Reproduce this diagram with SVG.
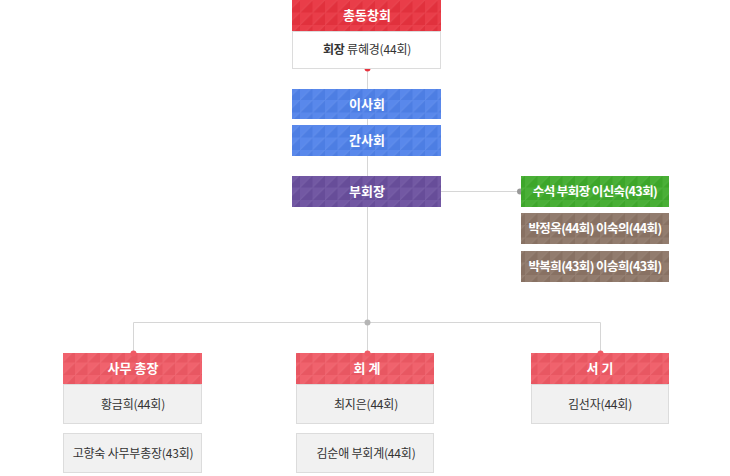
<svg xmlns="http://www.w3.org/2000/svg" width="730" height="476" viewBox="0 0 730 476">
<defs>
<pattern id="tex" width="12.5" height="12.5" patternUnits="userSpaceOnUse">
<path d="M0 0H12.5L0 12.5Z" fill="#fff" fill-opacity="0.05"/>
<path d="M12.5 0V12.5H0Z" fill="#000" fill-opacity="0.03"/>
<path d="M0 12.5L12.5 0" stroke="#fff" stroke-opacity="0.06" stroke-width="1"/>
</pattern>
<style>
.h{font-family:"Noto Sans CJK KR","Noto Sans",sans-serif;font-size:13px;font-weight:bold;fill:#fff;text-anchor:middle}
.c{font-size:12.5px;letter-spacing:-0.6px}
.t{font-family:"Noto Sans CJK KR","Noto Sans",sans-serif;font-size:12px;fill:#333;text-anchor:middle;letter-spacing:-0.2px}
.w{fill:#fff;stroke:#dcdcdc;stroke-width:1}
.g{fill:#f1f1f1;stroke:#dcdcdc;stroke-width:1}
.ln{stroke:#d6d6d6;stroke-width:1;fill:none}
</style>
</defs>
<g id="connectors">
<path class="ln" d="M367.5 68V322"/>
<path class="ln" d="M441 191.5H521"/>
<path class="ln" d="M133.5 353V322.5H600.5V353"/>
<path class="ln" d="M367.5 322V353"/>
<circle cx="367.5" cy="68.5" r="3" fill="#e8323e"/>
<circle cx="367.5" cy="322.5" r="3" fill="#b5b5b5"/>
<circle cx="520" cy="191.5" r="3" fill="#999"/>
</g>
<g id="n-chongdong">
<rect x="292" y="0" width="149" height="31" fill="#e8333f"/>
<rect x="292" y="0" width="149" height="31" fill="url(#tex)"/>
<text class="h" x="367" y="20">총동창회</text>
<rect class="w" x="292.5" y="31.5" width="148" height="37"/>
<text class="t" x="367" y="54"><tspan font-weight="bold">회장</tspan> 류혜경(44회)</text>
</g>
<g id="n-isa">
<rect x="292" y="89" width="149" height="30" fill="#5082ea"/>
<rect x="292" y="89" width="149" height="30" fill="url(#tex)"/>
<text class="h" x="367" y="108.5">이사회</text>
</g>
<g id="n-gansa">
<rect x="292" y="125" width="149" height="31" fill="#5082ea"/>
<rect x="292" y="125" width="149" height="31" fill="url(#tex)"/>
<text class="h" x="367" y="145">간사회</text>
</g>
<g id="n-buhoe">
<rect x="292" y="176" width="149" height="31" fill="#6a4f9e"/>
<rect x="292" y="176" width="149" height="31" fill="url(#tex)"/>
<text class="h" x="367" y="196">부회장</text>
</g>
<g id="n-susuk">
<rect x="521" y="176" width="148" height="31" fill="#3fab2b"/>
<rect x="521" y="176" width="148" height="31" fill="url(#tex)"/>
<text class="h c" x="595" y="196">수석 부회장 이신숙(43회)</text>
</g>
<g id="n-b1">
<rect x="521" y="213" width="148" height="31" fill="#8c7566"/>
<rect x="521" y="213" width="148" height="31" fill="url(#tex)"/>
<text class="h c" x="595" y="233">박정옥(44회) 이숙의(44회)</text>
</g>
<g id="n-b2">
<rect x="521" y="251" width="148" height="31" fill="#8c7566"/>
<rect x="521" y="251" width="148" height="31" fill="url(#tex)"/>
<text class="h c" x="595" y="271">박복희(43회) 이승희(43회)</text>
</g>
<g id="n-samu">
<rect x="63" y="353" width="139" height="31" fill="#ef5a65"/>
<rect x="63" y="353" width="139" height="31" fill="url(#tex)"/>
<circle cx="133.5" cy="353.5" r="3" fill="#ef5a65"/>
<text class="h" x="133" y="373">사무 총장</text>
<rect class="g" x="63.5" y="384.5" width="138" height="39"/>
<text class="t" x="133" y="409">황금희(44회)</text>
<rect class="g" x="63.5" y="433.5" width="138" height="39"/>
<text class="t" x="133" y="458">고향숙 사무부총장(43회)</text>
</g>
<g id="n-hoegye">
<rect x="296" y="353" width="138" height="31" fill="#ef5a65"/>
<rect x="296" y="353" width="138" height="31" fill="url(#tex)"/>
<circle cx="367.5" cy="353.5" r="3" fill="#ef5a65"/>
<text class="h" x="367" y="373">회 계</text>
<rect class="g" x="296.5" y="384.5" width="137" height="39"/>
<text class="t" x="366" y="409">최지은(44회)</text>
<rect class="g" x="296.5" y="433.5" width="137" height="39"/>
<text class="t" x="366" y="458">김순애 부회계(44회)</text>
</g>
<g id="n-seogi">
<rect x="531" y="353" width="138" height="31" fill="#ef5a65"/>
<rect x="531" y="353" width="138" height="31" fill="url(#tex)"/>
<circle cx="600.5" cy="353.5" r="3" fill="#ef5a65"/>
<text class="h" x="600" y="373">서 기</text>
<rect class="g" x="531.5" y="384.5" width="137" height="39"/>
<text class="t" x="600" y="409">김선자(44회)</text>
</g>
</svg>
